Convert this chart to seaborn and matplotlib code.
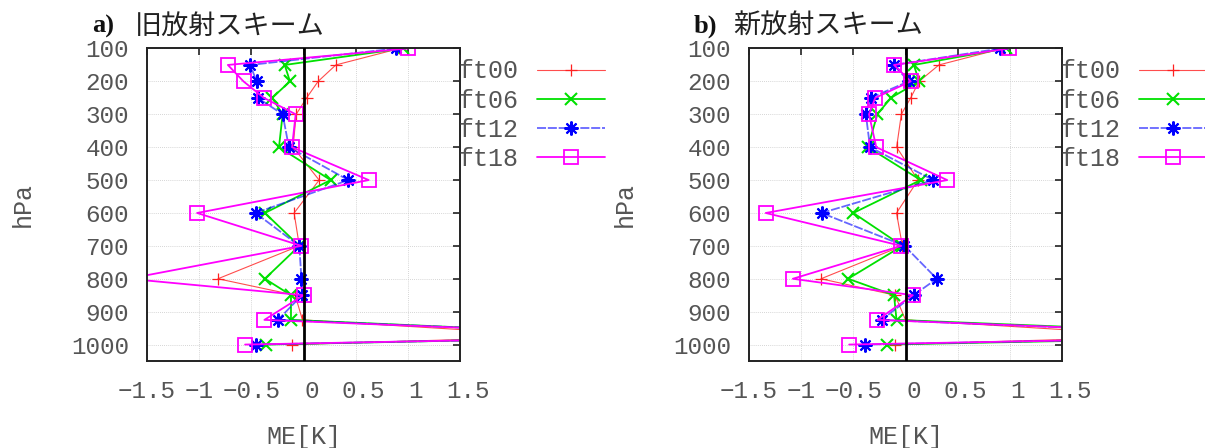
import numpy as np
import pandas as pd
import matplotlib
matplotlib.use("Agg")
import matplotlib.pyplot as plt
import matplotlib.colors as mcolors
import matplotlib.transforms as mtransforms
import seaborn as sns

# pressure levels (hPa)
levels = [100, 150, 200, 250, 300, 400, 500, 600, 700, 800, 850, 925, 975, 1000]

# a) old radiation scheme, ME [K]
a_ft00 = [0.92, 0.31, 0.14, 0.03, -0.07, -0.10, 0.15, -0.09, -0.04, -0.82, -0.08, -0.01, 2.56, -0.11]
a_ft06 = [0.95, -0.18, -0.13, -0.30, -0.20, -0.235, 0.26, -0.37, -0.04, -0.37, -0.12, -0.12, 3.44, -0.355]
a_ft12 = [0.885, -0.51, -0.45, -0.44, -0.20, -0.14, 0.43, -0.46, -0.04, -0.02, -0.015, -0.245, 3.55, -0.46]
a_ft18 = [1.00, -0.725, -0.575, -0.38, -0.075, -0.11, 0.625, -1.02, -0.02, -1.68, 0.0, -0.375, 3.6, -0.56]

# b) new radiation scheme
b_ft00 = [0.93, 0.32, 0.13, 0.05, -0.04, -0.085, 0.12, -0.086, -0.03, -0.81, -0.10, 0.0, 2.55, -0.10]
b_ft06 = [0.96, 0.08, 0.13, -0.14, -0.27, -0.36, 0.145, -0.50, -0.03, -0.55, -0.11, -0.086, 3.8, -0.18]
b_ft12 = [0.91, -0.11, 0.03, -0.335, -0.38, -0.34, 0.265, -0.805, -0.01, 0.30, 0.077, -0.23, 3.6, -0.39]
b_ft18 = [0.99, -0.11, 0.05, -0.29, -0.35, -0.28, 0.40, -1.34, -0.04, -1.08, 0.07, -0.27, 3.7, -0.54]

series_names = ["ft00", "ft06", "ft12", "ft18"]
xticks = [-1.5, -1, -0.5, 0, 0.5, 1, 1.5]
xtick_labels = ["\u22121.5", "\u22121", "\u22120.5", "0", "0.5", "1", "1.5"]
yticks = [100, 200, 300, 400, 500, 600, 700, 800, 900, 1000]

# line alpha only affects the line, markers stay solid
styles = {
    "ft00": dict(color="#ff2020", marker="+", ms=9, mew=0.9, lw=0.8, la=0.8, ls="-"),
    "ft06": dict(color="#00e000", marker="x", ms=9, mew=1.5, lw=1.3, la=1.0, ls="-"),
    "ft12": dict(color="#0000ff", marker=(8, 2, 0), ms=10, mew=1.5, lw=1.3, la=0.6, ls=(0, (5, 1))),
    "ft18": dict(color="#ff00ff", marker="s", ms=9.5, mew=1.3, lw=1.3, la=1.0, ls="-"),
}

sns.set_theme(style="white")
mono = "Liberation Mono"
plt.rcParams["font.family"] = [mono, "DejaVu Sans"]
txt_color = "#555555"

fig = plt.figure(figsize=(12.05, 4.48), dpi=100)
ax_a = fig.add_axes([147 / 1205, 87 / 448, 313 / 1205, 312.5 / 448])
ax_b = fig.add_axes([749 / 1205, 87 / 448, 313 / 1205, 312.5 / 448])

panels = [
    (ax_a, [a_ft00, a_ft06, a_ft12, a_ft18], "a)", "旧放射スキーム", 92, 135),
    (ax_b, [b_ft00, b_ft06, b_ft12, b_ft18], "b)", "新放射スキーム", 694, 733),
]

for ax, data, tag, title, tag_x, title_x in panels:
    for name, vals in zip(series_names, data):
        st = styles[name]
        sns.lineplot(x=vals, y=levels, sort=False, estimator=None, ax=ax,
                     color=st["color"], marker=st["marker"], ms=st["ms"],
                     mec=st["color"], mew=st["mew"],
                     mfc="none" if name == "ft18" else st["color"],
                     lw=st["lw"], ls=st["ls"], label=name)
        ax.lines[-1].set_color(mcolors.to_rgba(st["color"], st["la"]))

    ax.axvline(0, color="black", lw=2, zorder=5)
    ax.set_xlim(-1.5, 1.5)
    ax.set_ylim(1050, 100)
    ax.set_xticks(xticks)
    ax.set_xticklabels(xtick_labels)
    ax.set_yticks(yticks)
    ax.grid(True, color="#c8c8c8", ls=(0, (1, 1.5)), lw=0.6)
    ax.tick_params(direction="in", length=5, width=1.2, color="#222222",
                   top=True, right=True, labelsize=17.5, labelcolor=txt_color)
    ax.tick_params(axis="x", pad=14)
    ax.tick_params(axis="y", pad=13)
    for lab in ax.get_xticklabels()[3:]:
        lab.set_transform(lab.get_transform() +
                          mtransforms.ScaledTranslation(8 / 100, 0, fig.dpi_scale_trans))
    for sp in ax.spines.values():
        sp.set_color("#222222")
        sp.set_linewidth(1.4)

    ax.set_xlabel("ME[K]", fontsize=18, color=txt_color)
    ax.xaxis.set_label_coords(0.5, -0.243)
    ax.xaxis.label.set_va("center")
    ax.set_ylabel("hPa", fontsize=18, color=txt_color)
    ax.yaxis.set_label_coords(-0.396, 0.5)
    ax.yaxis.label.set_va("center")

    leg = ax.legend(loc="upper left", bbox_to_anchor=(0.995, 0.965), frameon=False,
                    markerfirst=False, borderpad=0, borderaxespad=0,
                    handlelength=2.7, handletextpad=0.75, labelspacing=0.21,
                    prop={"family": mono, "size": 18})
    for t in leg.get_texts():
        t.set_color(txt_color)

    fig.text(tag_x / 1205, 1 - 26 / 448, tag, fontsize=19, fontweight="bold",
             family="Liberation Serif", va="center", ha="left", color="#111111")
    fig.text(title_x / 1205, 1 - 26 / 448, title, fontsize=19.5,
             family=["Noto Sans CJK JP", "DejaVu Sans"], va="center", ha="left",
             color="#222222")

fig.savefig("out.png", dpi=100)
